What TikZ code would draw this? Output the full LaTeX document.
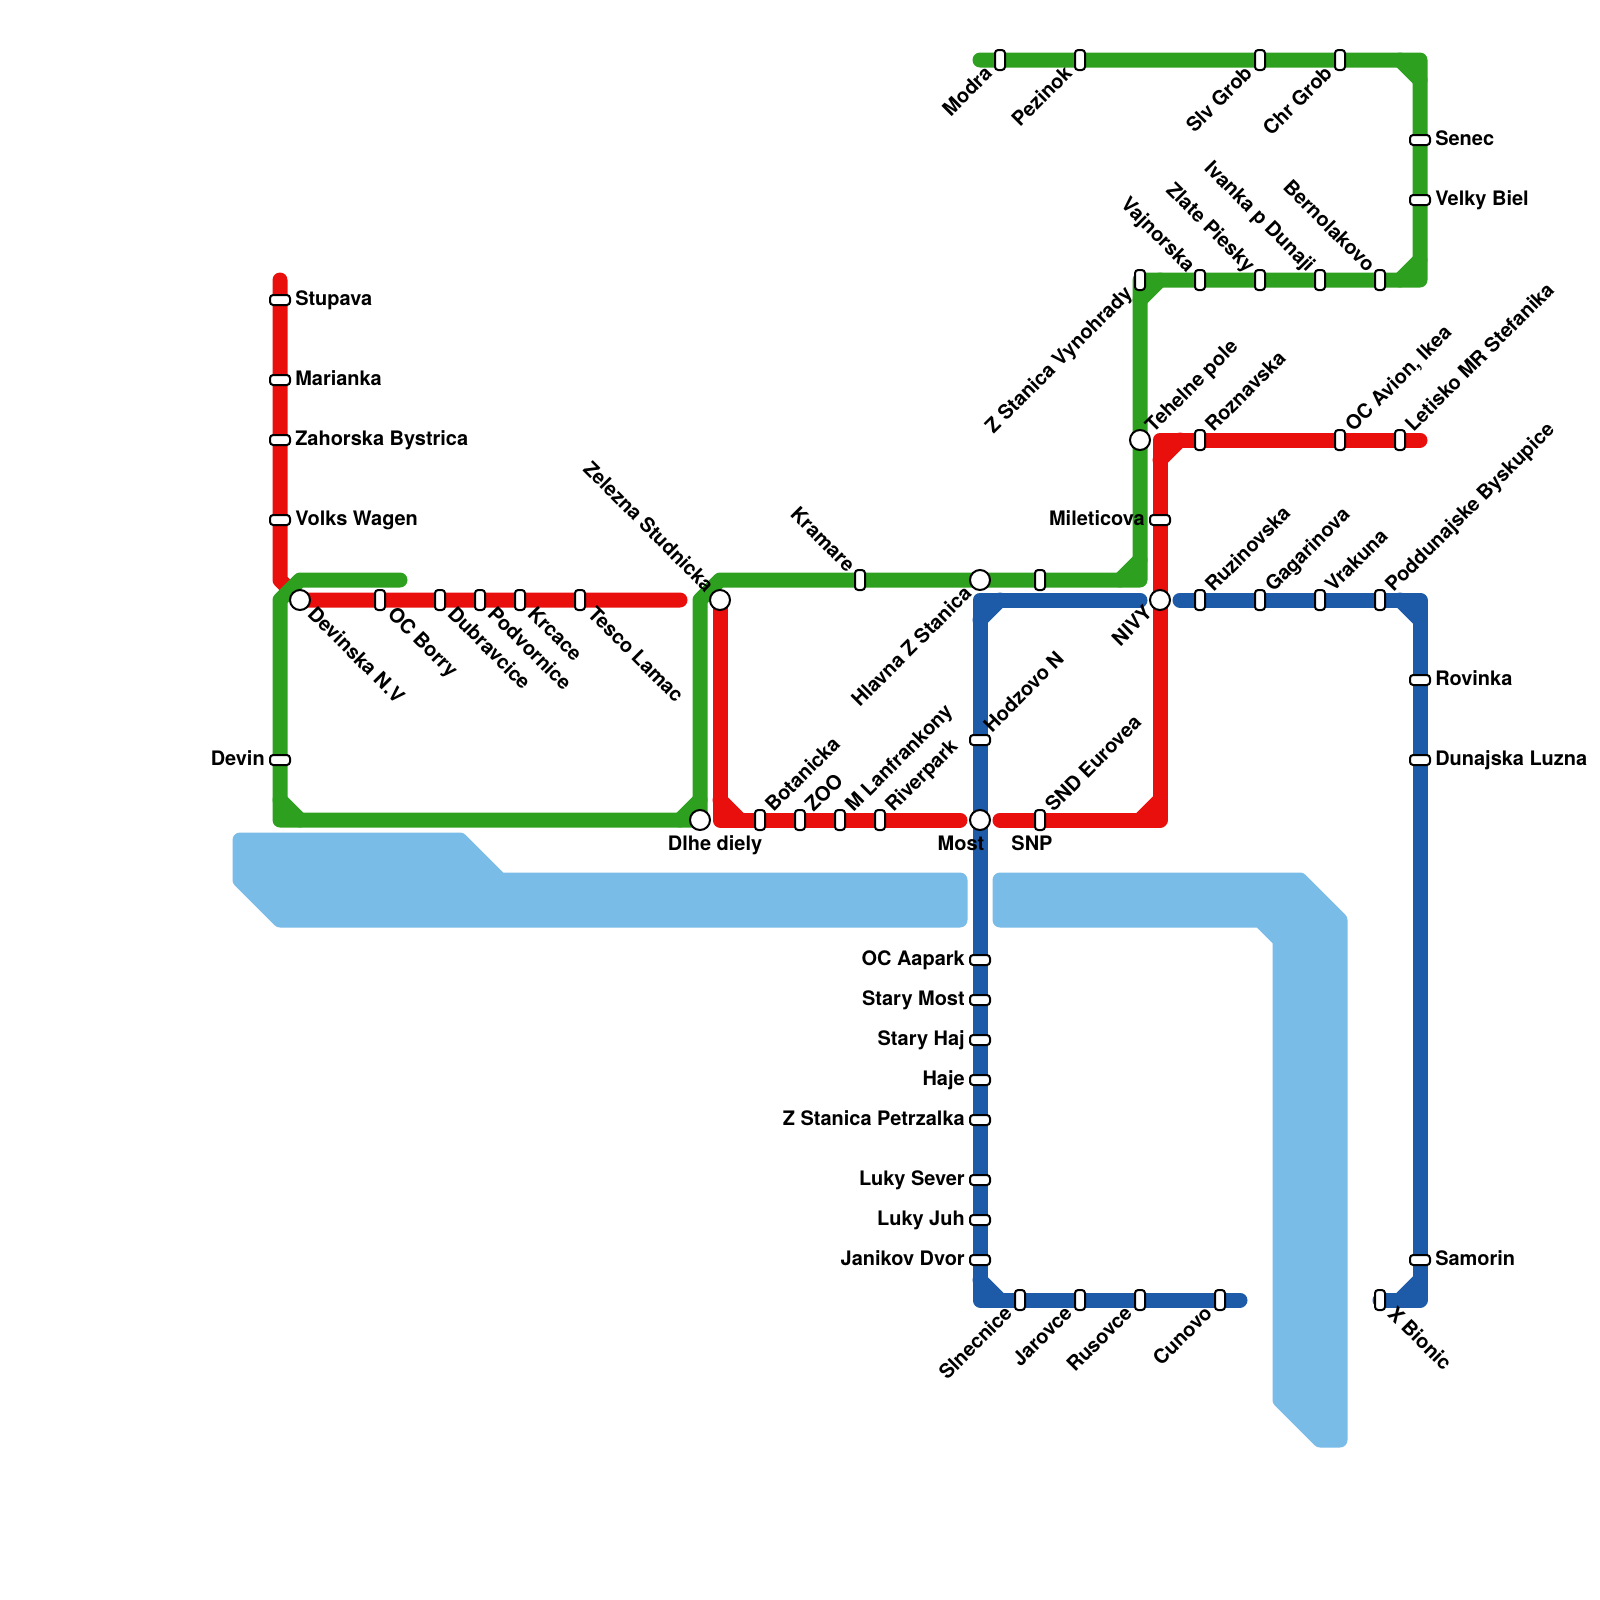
\documentclass[tikz,border=0pt]{standalone}
\usepackage{fontspec}
\setmainfont{TeX Gyre Heros}
\usepackage{xcolor}
\definecolor{MapRed}  {HTML}{E90F0C}
\definecolor{MapGreen}{HTML}{2EA01F}
\definecolor{MapBlue} {HTML}{1D5BA9}
\definecolor{MapWater}{HTML}{79BCE8}
\begin{document}
\begin{tikzpicture}[x=0.5cm,y=-0.5cm,
    redline/.style={draw=MapRed,line width=0.375cm,line cap=round,line join=round},
    greenline/.style={draw=MapGreen,line width=0.375cm,line cap=round,line join=round},
    blueline/.style={draw=MapBlue,line width=0.375cm,line cap=round,line join=round},
    water/.style={draw=MapWater,fill=MapWater,line width=0.375cm,line join=round},
    stah/.style={draw=black,fill=white,line width=0.05cm,rectangle,rounded corners=0.08cm,minimum width=0.25cm,minimum height=0.5cm,inner sep=0pt},
    stav/.style={draw=black,fill=white,line width=0.05cm,rectangle,rounded corners=0.08cm,minimum width=0.5cm,minimum height=0.25cm,inner sep=0pt},
    hub/.style={draw=black,fill=white,line width=0.05cm,circle,minimum size=0.5cm,inner sep=0pt},
    tag/.style={font=\fontsize{14.2}{17}\selectfont\bfseries,inner sep=0pt,text height=10pt,text depth=3pt},
    tagne/.style={tag,rotate=45,anchor=west},
    tagse/.style={tag,rotate=-45,anchor=west},
    tagsw/.style={tag,rotate=45,anchor=east},
    tagnw/.style={tag,rotate=-45,anchor=east},
    tage/.style={tag,anchor=west},
    tagw/.style={tag,anchor=east}
  ]
    \useasboundingbox (0,0) rectangle (80,80);
    % water
    \draw[water] (12,42)--(23,42)--(25,44)--(48,44)--(48,46)--(14,46)--(12,44)--cycle;
    \draw[water] (50,44)--(65,44)--(67,46)--(67,72)--(66,72)--(64,70)--(64,47)--(63,46)--(50,46)--cycle;
    % bends of the lines
    \coordinate (rA) at (14,14);
    \coordinate (rB) at (14,29);
    \coordinate (rC) at (15,30);
    \coordinate (rD) at (34,30);
    \coordinate (rE) at (36,30);
    \coordinate (rF) at (36,41);
    \coordinate (rG) at (48,41);
    \coordinate (rH) at (50,41);
    \coordinate (rI) at (58,41);
    \coordinate (rJ) at (58,22);
    \coordinate (rK) at (71,22);
    \coordinate (bA) at (57,30);
    \coordinate (bB) at (49,30);
    \coordinate (bC) at (49,65);
    \coordinate (bD) at (62,65);
    \coordinate (bE) at (59,30);
    \coordinate (bF) at (71,30);
    \coordinate (bG) at (71,65);
    \coordinate (bH) at (69,65);
    \coordinate (gA) at (20,29);
    \coordinate (gB) at (15,29);
    \coordinate (gC) at (14,30);
    \coordinate (gD) at (14,41);
    \coordinate (gE) at (35,41);
    \coordinate (gF) at (35,30);
    \coordinate (gG) at (36,29);
    \coordinate (gH) at (57,29);
    \coordinate (gI) at (57,14);
    \coordinate (gJ) at (71,14);
    \coordinate (gK) at (71,3);
    \coordinate (gL) at (49,3);
    % red
    \draw[redline] (rA)--(rB)--(rC)--(rD);
    \draw[redline] (rE)--(rF)--(rG);
    \draw[redline] (rF)+(0,-1)--+(1,0);
    \draw[redline] (rH)--(rI)--(rJ)--(rK);
    \draw[redline] (rI)+(-1,0)--+(0,-1);
    \draw[redline] (rJ)+(0,1)--+(1,0);
    % blue
    \draw[blueline] (bA)--(bB)--(bC)--(bD);
    \draw[blueline] (bB)+(1,0)--+(0,1);
    \draw[blueline] (bC)+(0,-1)--+(1,0);
    \draw[blueline] (bE)--(bF)--(bG)--(bH);
    \draw[blueline] (bF)+(-1,0)--+(0,1);
    \draw[blueline] (bG)+(0,-1)--+(-1,0);
    % green
    \draw[greenline] (gA)--(gB)--(gC)--(gD)--(gE)--(gF)--(gG)--(gH)--(gI)--(gJ)--(gK)--(gL);
    \draw[greenline] (gD)+(0,-1)--+(1,0);
    \draw[greenline] (gE)+(-1,0)--+(0,-1);
    \draw[greenline] (gH)+(-1,0)--+(0,-1);
    \draw[greenline] (gI)+(0,1)--+(1,0);
    \draw[greenline] (gJ)+(-1,0)--+(0,-1);
    \draw[greenline] (gK)+(-1,0)--+(0,1);
    % stations
    \foreach \x/\y/\n/\tx in {38/41/botanicka/Botanicka,40/41/zoo/ZOO,42/41/lanfrankony/M Lanfrankony,44/41/riverpark/Riverpark,52/41/snd/SND Eurovea,60/30/ruzinovska/Ruzinovska,63/30/gagarinova/Gagarinova,66/30/vrakuna/Vrakuna,69/30/podunajske/Poddunajske Byskupice,60/22/roznavska/Roznavska,67/22/avion/{OC Avion, Ikea},70/22/letisko/Letisko MR Stefanika}{
      \node[stah](\n) at (\x,\y){};
      \node[tagne](\n-t) at (\x+.5,\y-.52){\tx};
    }
    \foreach \x/\y/\n/\tx in {50/3/modra/Modra,54/3/pezinok/Pezinok,63/3/slvgrob/Slv Grob,67/3/chrgrob/Chr Grob,57/14/vynohrady/Z Stanica Vynohrady,51/65/slnecnice/Slnecnice,54/65/jarovce/Jarovce,57/65/rusovce/Rusovce,61/65/cunovo/Cunovo}{
      \node[stah](\n) at (\x,\y){};
      \node[tagsw](\n-t) at (\x-.5,\y+.55){\tx};
    }
    \foreach \x/\y/\n/\tx in {43/29/kramare/Kramare,60/14/vajnorska/Vajnorska,63/14/zlate/Zlate Piesky,66/14/ivanka/Ivanka p Dunaji,69/14/bernolakovo/Bernolakovo}{
      \node[stah](\n) at (\x,\y){};
      \node[tagnw](\n-t) at (\x-.48,\y-.52){\tx};
    }
    \foreach \x/\y/\n/\tx in {19/30/borry/OC Borry,22/30/dubravcice/Dubravcice,24/30/podvornice/Podvornice,26/30/krcace/Krcace,29/30/tesco/Tesco Lamac,69/65/bionic/X Bionic}{
      \node[stah](\n) at (\x,\y){};
      \node[tagse](\n-t) at (\x+.5,\y+.57){\tx};
    }
    \foreach \x/\y/\n/\tx in {14/15/stupava/Stupava,14/19/marianka/Marianka,14/22/zahorska/Zahorska Bystrica,14/26/volks/Volks Wagen,71/7/senec/Senec,71/10/biel/Velky Biel,71/34/rovinka/Rovinka,71/38/luzna/Dunajska Luzna,71/63/samorin/Samorin}{
      \node[stav](\n) at (\x,\y){};
      \node[tage](\n-t) at (\x+.75,\y+.05){\tx};
    }
    \foreach \x/\y/\n/\tx in {14/38/devin/Devin,58/26/mileticova/Mileticova,49/48/aapark/OC Aapark,49/50/starymost/Stary Most,49/52/staryhaj/Stary Haj,49/54/haje/Haje,49/56/petrzalka/Z Stanica Petrzalka,49/59/sever/Luky Sever,49/61/juh/Luky Juh,49/63/janikov/Janikov Dvor}{
      \node[stav](\n) at (\x,\y){};
      \node[tagw](\n-t) at (\x-.75,\y+.05){\tx};
    }
    \node[stav](hodzovo) at (49,37){};
    \node[tagne](hodzovo-t) at (49.42,36.5){Hodzovo N};
    \node[stah](unnamed) at (52,29){};
    \node[tag](snp-t) at (51.6,42.27){SNP};
    % hubs
    \node[hub](devinska) at (15,30){};
    \node[tagse](devinska-t) at (15.5,30.57){Devinska N.V};
    \node[hub](zelezna) at (36,30){};
    \node[tagnw](zelezna-t) at (35.45,29.5){Zelezna Studnicka};
    \node[hub](hlavna) at (49,29){};
    \node[tagsw](hlavna-t) at (48.47,29.57){Hlavna Z Stanica};
    \node[hub](dlhe) at (35,41){};
    \node[tag](dlhe-t) at (35.75,42.27){Dlhe diely};
    \node[hub](mostx) at (49,41){};
    \node[tag](mostx-t) at (48.05,42.27){Most};
    \node[hub](tehelne) at (57,22){};
    \node[tagne](tehelne-t) at (57.5,21.5){Tehelne pole};
    \node[hub](nivy) at (58,30){};
    \node[tagsw](nivy-t) at (57.5,30.52){NIVY};
\end{tikzpicture}
\end{document}
